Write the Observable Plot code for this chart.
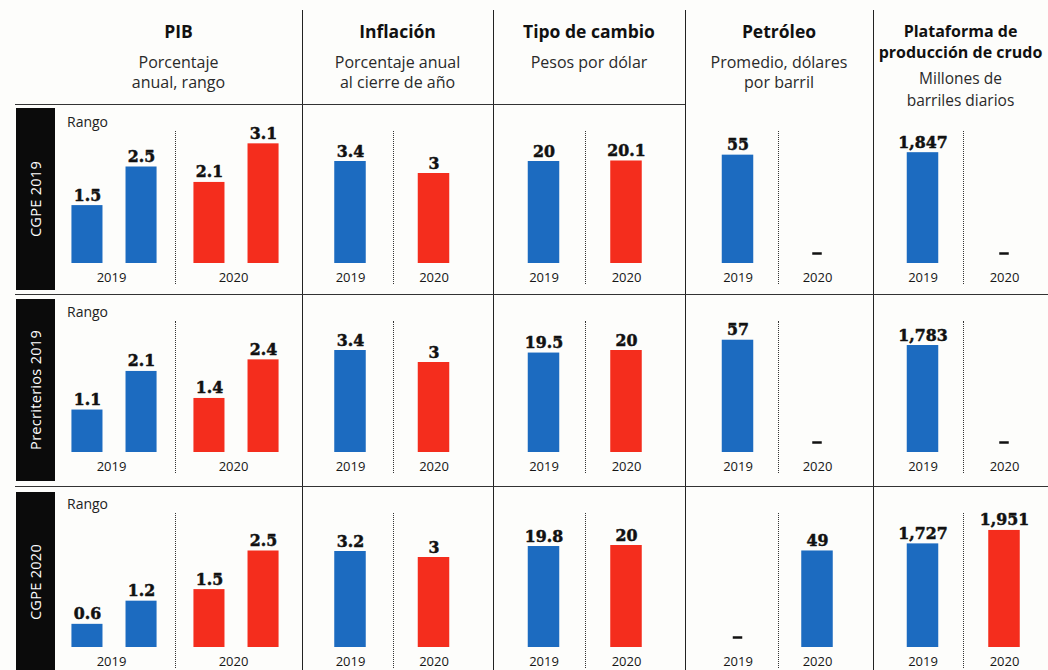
<!DOCTYPE html>
<html><head><meta charset="utf-8">
<script src="https://cdn.jsdelivr.net/npm/d3@7"></script>
<script src="https://cdn.jsdelivr.net/npm/@observablehq/plot@0.6"></script>
<style>
html,body{margin:0;padding:0;background:#fdfdfb;overflow:hidden}
#root{position:relative;width:1048px;height:670px;overflow:hidden;font-family:"Open Sans",sans-serif;color:#111}
.abs{position:absolute}
.title{font-weight:700;font-size:17.5px;line-height:21px;text-align:center;color:#111}
.title.small{font-size:16px}
.sub{font-size:16px;line-height:20px;text-align:center;color:#2a2a2a}
.sub.small{font-size:15.5px}
.vline{position:absolute;width:0;border-left:1.3px solid #222}
.hline{position:absolute;height:0;border-top:1.3px solid #333}
.dots{position:absolute;width:0;border-left:1.2px dotted #333}
.rowlab{position:absolute;background:#0b0b0b;color:#fff;display:flex;align-items:center;justify-content:center}
.rowlab span{writing-mode:vertical-rl;transform:rotate(180deg);font-size:14.5px;letter-spacing:0.3px}
.rango{position:absolute;font-size:14px;color:#222}
.cell{position:absolute}
</style></head>
<body><div id="root"></div>
<script>
// ---------- data ----------
const filas = ["CGPE 2019", "Precriterios 2019", "CGPE 2020"];
const anios = ["2019", "2020"];
const indicadores = ["PIB", "Inflación", "Tipo de cambio", "Petróleo", "Plataforma de producción de crudo"];
const tituloLineas = [["PIB"], ["Inflación"], ["Tipo de cambio"], ["Petróleo"], ["Plataforma de", "producción de crudo"]];
const subtituloLineas = [["Porcentaje", "anual, rango"], ["Porcentaje anual", "al cierre de año"], ["Pesos por dólar"], ["Promedio, dólares", "por barril"], ["Millones de", "barriles diarios"]];
const pibMin2019 = [1.5, 1.1, 0.6];
const pibMax2019 = [2.5, 2.1, 1.2];
const pibMin2020 = [2.1, 1.4, 1.5];
const pibMax2020 = [3.1, 2.4, 2.5];
const inflacion2019 = [3.4, 3.4, 3.2];
const inflacion2020 = [3, 3, 3];
const tipoCambio2019 = [20, 19.5, 19.8];
const tipoCambio2020 = [20.1, 20, 20];
const petroleo2019 = [55, 57, null];
const petroleo2020 = [null, null, 49];
const plataforma2019 = [1847, 1783, 1727];
const plataforma2020 = [null, null, 1951];

// ---------- layout ----------
const root = document.getElementById("root");
const BLUE = "#1c6bc0", RED = "#f42d1d";
const colX = [55, 302, 493, 685, 873, 1048];
const baselines = [263, 452, 647];
const rowTops = [104, 294, 486];
const sepX = [175, 393, 585, 778, 963];
const barCenters = [null, [350, 433.5], [543.5, 626], [737.5, 817], [922.5, 1004]];
const pxPerUnit = [38.6, 30, 5.1, 1.97, 0.06];
const AREA = 163, MB = 27;
const fmt = d3.format(",");
const labelFont = {fontFamily: "'DejaVu Serif Condensed', 'DejaVu Serif', serif", fontWeight: "bold", fontSize: 17.5, fill: "#111", stroke: "#111", strokeWidth: 0.5, paintOrder: "fill"};
const styleBase = {fontFamily: "'Open Sans', sans-serif", fontSize: "13px", color: "#161616", background: "transparent", overflow: "visible"};

function el(cls, css, html) {
  const d = document.createElement("div");
  d.className = cls;
  Object.assign(d.style, css);
  if (html != null) d.innerHTML = html;
  root.appendChild(d);
  return d;
}

// header texts
indicadores.forEach((_, ci) => {
  const left = ci === 0 ? 55 : colX[ci], width = colX[ci + 1] - left;
  const two = tituloLineas[ci].length > 1;
  el("abs title" + (two ? " small" : ""), {left: left + "px", width: width + "px", top: "21px"}, tituloLineas[ci].join("<br>"));
  const st = two ? 67 : 52;
  const lh = two ? "22px" : "20px";
  el("abs sub" + (two ? " small" : ""), {left: left + "px", width: width + "px", top: st + "px", lineHeight: lh}, subtituloLineas[ci].join("<br>"));
});

// grid lines
[302, 493, 685, 873].forEach(x => el("vline", {left: x + "px", top: "10px", height: "660px"}));
el("hline", {left: "15px", top: "104px", width: "670px"});
[294, 486].forEach(y => el("hline", {left: "15px", top: y + "px", width: "1033px"}));

// row labels
const boxTops = [108, 299, 492], boxBottoms = [290, 481, 672];
filas.forEach((f, ri) => {
  const b = el("rowlab", {left: "16px", width: "39px", top: boxTops[ri] + "px", height: (boxBottoms[ri] - boxTops[ri]) + "px"});
  const s = document.createElement("span"); s.textContent = f; b.appendChild(s);
  el("rango", {left: "67px", top: (rowTops[ri] + 8) + "px"}, "Rango");
  sepX.forEach(x => el("dots", {left: x + "px", top: (rowTops[ri] + 27) + "px", height: (baselines[ri] + 21 - rowTops[ri] - 27) + "px"}));
});

function place(plot, left, ri) {
  const w = el("cell", {left: left + "px", top: (baselines[ri] - AREA) + "px"});
  w.appendChild(plot);
}

// PIB cells
filas.forEach((f, ri) => {
  const data = [
    {anio: "2019", nivel: "min", v: pibMin2019[ri]},
    {anio: "2019", nivel: "max", v: pibMax2019[ri]},
    {anio: "2020", nivel: "min", v: pibMin2020[ri]},
    {anio: "2020", nivel: "max", v: pibMax2020[ri]}
  ];
  const plot = Plot.plot({
    width: 247, height: AREA + MB, marginTop: 0, marginBottom: MB, marginLeft: 4, marginRight: 11,
    style: styleBase,
    fx: {domain: anios, paddingInner: 12 / 122, paddingOuter: 0, round: false, label: null},
    x: {domain: ["min", "max"], paddingInner: 0.426, paddingOuter: 0.23, round: false, axis: null},
    y: {domain: [0, AREA / pxPerUnit[0]], axis: null},
    color: {domain: anios, range: [BLUE, RED]},
    marks: [
      Plot.barY(data, {fx: "anio", x: "nivel", y: "v", fill: "anio"}),
      Plot.text(data, {fx: "anio", x: "nivel", y: "v", text: d => fmt(d.v), dy: -5, lineAnchor: "bottom", ...labelFont}),
      Plot.axisFx({anchor: "bottom", tickSize: 0, tickPadding: 9, label: null, fontSize: 13, dx: -3})
    ]
  });
  place(plot, 55, ri);
});

// other cells
const series = [null, [inflacion2019, inflacion2020], [tipoCambio2019, tipoCambio2020], [petroleo2019, petroleo2020], [plataforma2019, plataforma2020]];
for (let ci = 1; ci < 5; ci++) {
  const left = colX[ci], width = colX[ci + 1] - left;
  const [c1, c2] = barCenters[ci];
  const bw = 31.5, step = c2 - c1, pi = 1 - bw / step, po = 0.3;
  const R = step * (2 - pi + 2 * po);
  const start = (c1 + c2) / 2 - R / 2;
  const ml = start - left, mr = left + width - (start + R);
  filas.forEach((f, ri) => {
    const data = anios.map((a, k) => ({anio: a, v: series[ci][k][ri], serie: ci === 3 ? "2019" : a}));
    const present = data.filter(d => d.v != null), missing = data.filter(d => d.v == null);
    const plot = Plot.plot({
      width, height: AREA + MB, marginTop: 0, marginBottom: MB, marginLeft: ml, marginRight: mr,
      style: styleBase,
      x: {domain: anios, paddingInner: pi, paddingOuter: po, round: false, label: null},
      y: {domain: [0, AREA / pxPerUnit[ci]], axis: null},
      color: {domain: anios, range: [BLUE, RED]},
      marks: [
        Plot.barY(present, {x: "anio", y: "v", fill: "serie"}),
        Plot.text(present, {x: "anio", y: "v", text: d => fmt(d.v), dy: -5, lineAnchor: "bottom", ...labelFont}),
        Plot.tickY(missing, {x: "anio", y: () => 0, dy: -10, insetLeft: 11, insetRight: 11, strokeWidth: 2.5, stroke: "#111"}),
        Plot.axisX({tickSize: 0, tickPadding: 9, label: null, fontSize: 13})
      ]
    });
    place(plot, left, ri);
  });
}
</script>
</body></html>
